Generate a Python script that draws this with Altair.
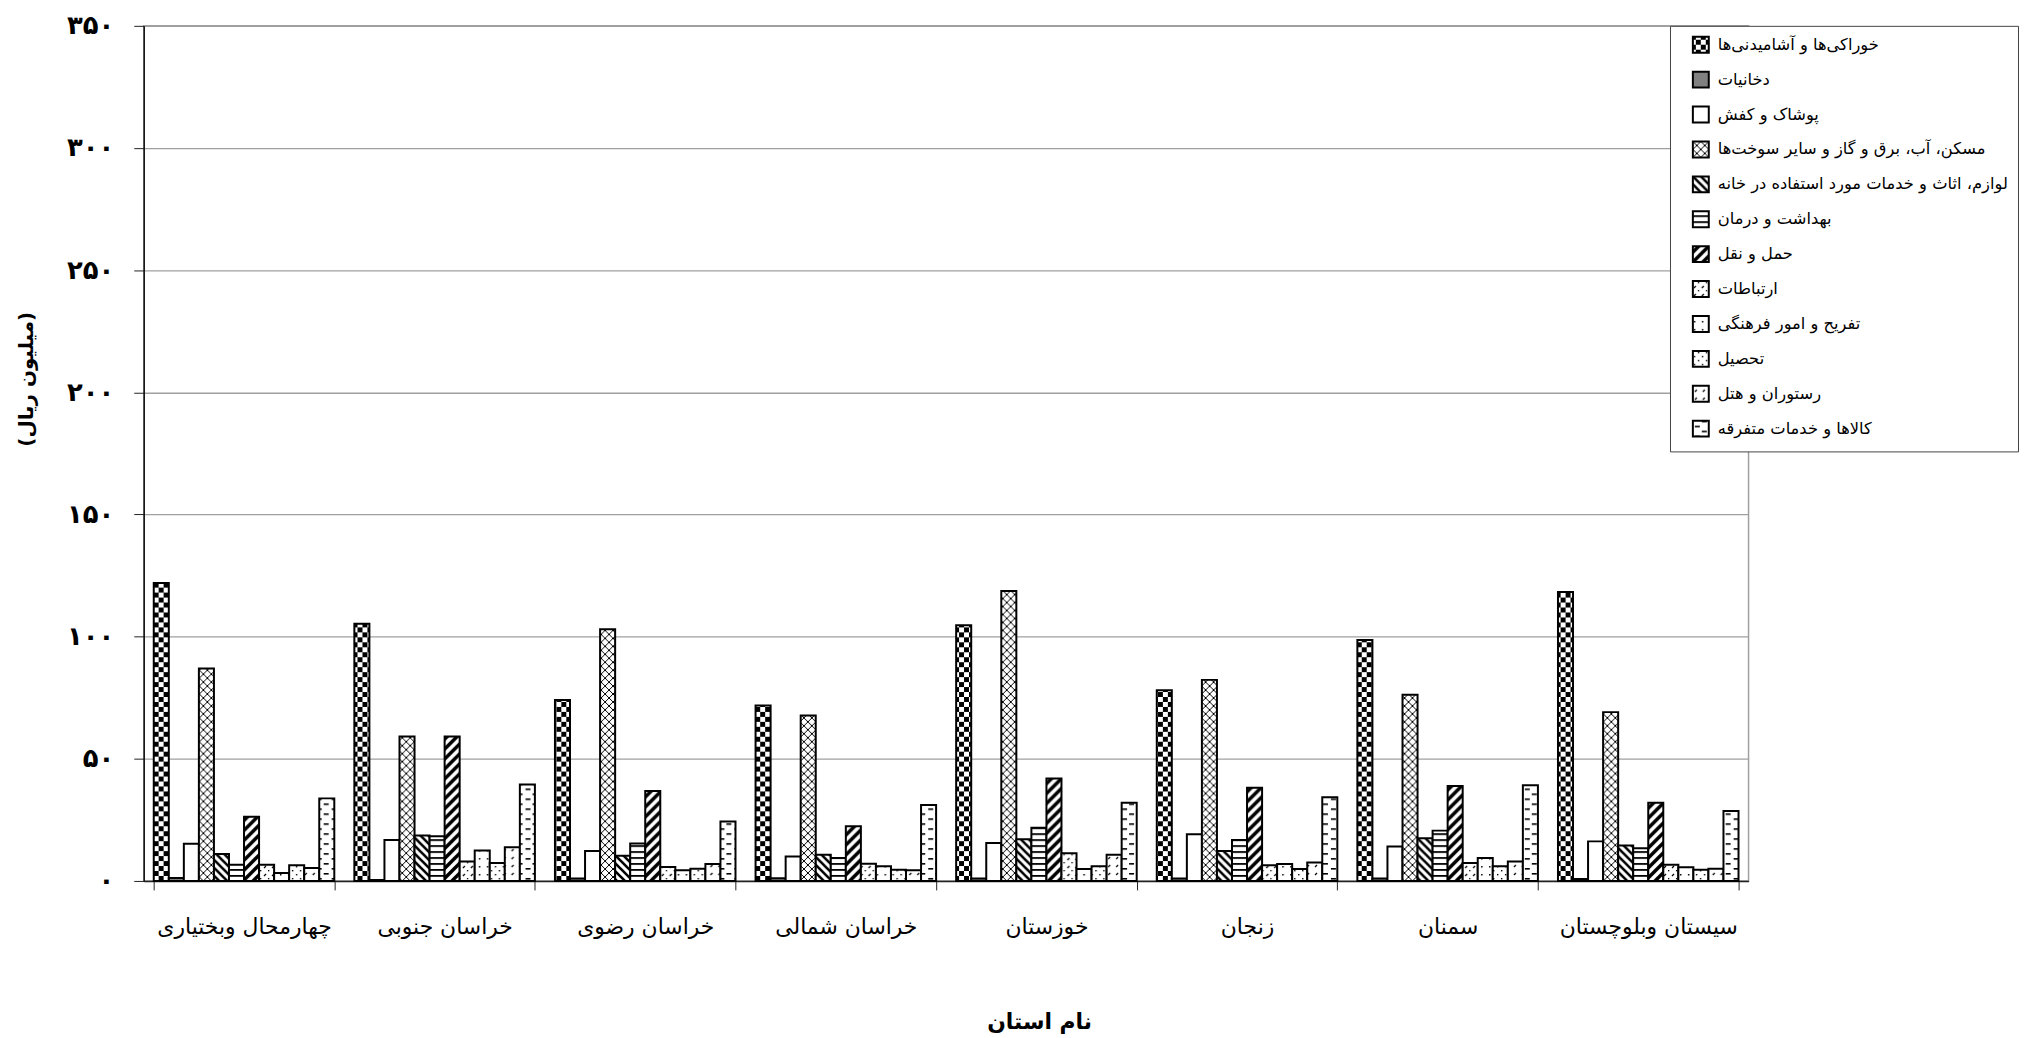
import altair as alt
import pandas as pd
import jinja2
import altair.utils.html as ahtml

# ---------------- data ----------------
PROVINCES = ["چهارمحال وبختیاری", "خراسان جنوبی", "خراسان رضوی", "خراسان شمالی",
             "خوزستان", "زنجان", "سمنان", "سیستان وبلوچستان"]

CATEGORIES = ["خوراکی‌ها و آشامیدنی‌ها", "دخانیات", "پوشاک و کفش",
              "مسکن، آب، برق و گاز و سایر سوخت‌ها", "لوازم، اثاث و خدمات مورد استفاده در خانه",
              "بهداشت و درمان", "حمل و نقل", "ارتباطات", "تفریح و امور فرهنگی",
              "تحصیل", "رستوران و هتل", "کالاها و خدمات متفرقه"]

food = [122.0, 105.3, 74.1, 71.8, 104.7, 78.1, 98.6, 118.3]
tobacco = [1.2, 0.4, 1.0, 1.1, 1.0, 1.0, 1.0, 0.8]
clothing = [15.2, 16.8, 12.3, 10.0, 15.5, 19.1, 14.1, 16.2]
housing = [87.0, 59.1, 103.0, 67.7, 118.7, 82.3, 76.2, 69.1]
furnishings = [11.0, 18.6, 10.3, 10.7, 17.1, 12.3, 17.5, 14.5]
health = [6.6, 18.3, 15.3, 9.4, 21.8, 16.8, 20.6, 13.4]
transport = [26.3, 59.1, 36.8, 22.4, 41.9, 38.1, 38.9, 32.0]
communication = [6.6, 8.0, 5.7, 7.0, 11.3, 6.4, 7.3, 6.6]
recreation = [3.3, 12.5, 4.4, 6.0, 4.9, 6.9, 9.4, 5.6]
education = [6.4, 7.3, 5.0, 4.6, 6.0, 4.9, 6.0, 4.6]
restaurant = [5.3, 13.8, 6.9, 4.4, 10.7, 7.6, 8.0, 5.0]
misc = [33.8, 39.5, 24.3, 31.1, 32.0, 34.3, 39.2, 28.6]

SERIES = [food, tobacco, clothing, housing, furnishings, health, transport,
          communication, recreation, education, restaurant, misc]

Y_TICKS = [0, 50, 100, 150, 200, 250, 300, 350]
Y_TICK_LABELS = ["۰", "۵۰", "۱۰۰", "۱۵۰", "۲۰۰", "۲۵۰", "۳۰۰", "۳۵۰"]

Y_TITLE = "(میلیون ریال)"
X_TITLE = "نام استان"

# fills: SVG patterns (defined in the page) or plain colours
FILLS = ["url(#p1)", "#808080", "#ffffff", "url(#p4)", "url(#p5)", "url(#p6)",
         "url(#p7)", "url(#p8)", "url(#p9)", "url(#p10)", "url(#p11)", "url(#p12)"]

rows = []
for cat, vals in zip(CATEGORIES, SERIES):
    for prov, v in zip(PROVINCES, vals):
        rows.append({"province": prov, "category": cat, "value": v})
df = pd.DataFrame(rows)

FONT = "DejaVu Sans"
PLOT_W = 1614
PLOT_H = 860

label_expr = " : ".join(
    f"datum.value == {v} ? '{l}'" for v, l in zip(Y_TICKS, Y_TICK_LABELS)
) + " : datum.label"

chart = alt.Chart(df).mark_bar(stroke="black", strokeWidth=2).encode(
    x=alt.X("province:N", sort=PROVINCES,
            scale=alt.Scale(paddingInner=0.1, paddingOuter=0.05),
            axis=alt.Axis(title=X_TITLE, labelAngle=0, labelFontSize=22, labelFont=FONT,
                          labelColor="black", labelPadding=27, tickSize=9, tickColor="#222",
                          tickBand="extent", domainColor="#222", domainWidth=1.5,
                          titleFont=FONT, titleFontSize=22, titleFontWeight="bold",
                          titleColor="black", titleX=900.5, titleY=141,
                          titleAlign="center", titleBaseline="middle", grid=False)),
    xOffset=alt.XOffset("category:N", sort=CATEGORIES, scale=alt.Scale(paddingInner=0, paddingOuter=0)),
    y=alt.Y("value:Q", scale=alt.Scale(domain=[0, 350], nice=False),
            axis=alt.Axis(title=Y_TITLE, values=Y_TICKS, labelExpr=label_expr,
                          labelFont=FONT, labelFontSize=26, labelFontWeight="bold",
                          labelColor="black", labelPadding=20, tickSize=10, tickColor="#222",
                          domainColor="#111", domainWidth=1.5, grid=True,
                          gridColor="#a0a0a0", gridWidth=1.3,
                          titleFont=FONT, titleFontSize=20, titleFontWeight="bold",
                          titleColor="black", titleX=-118, titleY=355, titleAngle=270,
                          titleAlign="center", titleBaseline="middle")),
    fill=alt.Fill("category:N", sort=CATEGORIES,
                  scale=alt.Scale(domain=CATEGORIES, range=FILLS),
                  legend=alt.Legend(title=None, orient="none", legendX=1535, legendY=0,
                                    fillColor="white", strokeColor="#444", padding=10,
                                    symbolType="square", symbolSize=256, symbolOffset=12,
                                    symbolStrokeColor="black", symbolStrokeWidth=2,
                                    labelFont=FONT, labelFontSize=16.4, labelColor="black",
                                    labelLimit=400, rowPadding=11.1, labelOffset=8)),
).properties(
    width=PLOT_W, height=PLOT_H,
    autosize=alt.AutoSizeParams(type="none"),
    padding={"left": 136.5, "top": 15, "right": 272, "bottom": 155},
).configure_view(stroke="#a0a0a0", strokeWidth=1.5)

# ---------------- SVG pattern definitions injected into the page ----------------
DEFS = """
<svg width="0" height="0" style="position:absolute;left:0;top:0" aria-hidden="true">
 <defs>
  <pattern id="p1" patternUnits="userSpaceOnUse" width="10" height="10">
   <rect width="10" height="10" fill="white"/>
   <rect x="0" y="0" width="5" height="5" fill="black"/>
   <rect x="5" y="5" width="5" height="5" fill="black"/>
  </pattern>
  <pattern id="p4" patternUnits="userSpaceOnUse" width="8" height="8">
   <rect width="8" height="8" fill="white"/>
   <path d="M0,0 L8,8 M8,0 L0,8" stroke="black" stroke-width="1"/>
  </pattern>
  <pattern id="p5" patternUnits="userSpaceOnUse" width="8" height="8">
   <rect width="8" height="8" fill="white"/>
   <path d="M-2,-2 L10,10 M-2,6 L2,10 M6,-2 L10,2" stroke="black" stroke-width="2.6"/>
  </pattern>
  <pattern id="p6" patternUnits="userSpaceOnUse" width="6" height="6">
   <rect width="6" height="6" fill="white"/>
   <rect x="0" y="2" width="6" height="1.8" fill="black"/>
  </pattern>
  <pattern id="p7" patternUnits="userSpaceOnUse" width="10" height="10">
   <rect width="10" height="10" fill="white"/>
   <path d="M-2,12 L12,-2 M-2,2 L2,-2 M8,12 L12,8" stroke="black" stroke-width="3.5"/>
  </pattern>
  <pattern id="p8" patternUnits="userSpaceOnUse" width="8" height="8">
   <rect width="8" height="8" fill="white"/>
   <path d="M1,7 L3,5" stroke="black" stroke-width="1.2"/>
   <rect x="5" y="1" width="1.3" height="1.3" fill="black"/>
  </pattern>
  <pattern id="p9" patternUnits="userSpaceOnUse" width="8" height="8">
   <rect width="8" height="8" fill="white"/>
   <rect x="1" y="5" width="1.5" height="1.5" fill="black"/>
  </pattern>
  <pattern id="p10" patternUnits="userSpaceOnUse" width="8" height="8">
   <rect width="8" height="8" fill="white"/>
   <rect x="1" y="5" width="1.4" height="1.4" fill="black"/>
   <rect x="5" y="1" width="1.4" height="1.4" fill="black"/>
  </pattern>
  <pattern id="p11" patternUnits="userSpaceOnUse" width="8" height="8">
   <rect width="8" height="8" fill="white"/>
   <path d="M2,6 L4,4" stroke="black" stroke-width="1.2"/>
  </pattern>
  <pattern id="p12" patternUnits="userSpaceOnUse" width="15" height="10">
   <rect width="15" height="10" fill="white"/>
   <rect x="1" y="2" width="5" height="1.6" fill="black"/>
   <rect x="9" y="7" width="5" height="1.6" fill="black"/>
  </pattern>
 </defs>
</svg>
"""

_base_template = ahtml.TEMPLATES["standard"]


def _render_with_patterns(*args, **kwargs):
    html = _base_template.render(*args, **kwargs)
    html = html.replace("</head>", "<style>body{overflow:hidden;}</style></head>", 1)
    if "<body>" in html:
        html = html.replace("<body>", "<body>" + DEFS, 1)
    else:
        html = DEFS + html
    return html


pattern_template = jinja2.Template("")
pattern_template.render = _render_with_patterns

chart.save("out.html", embed_options={"renderer": "svg", "actions": False},
           template=pattern_template)
